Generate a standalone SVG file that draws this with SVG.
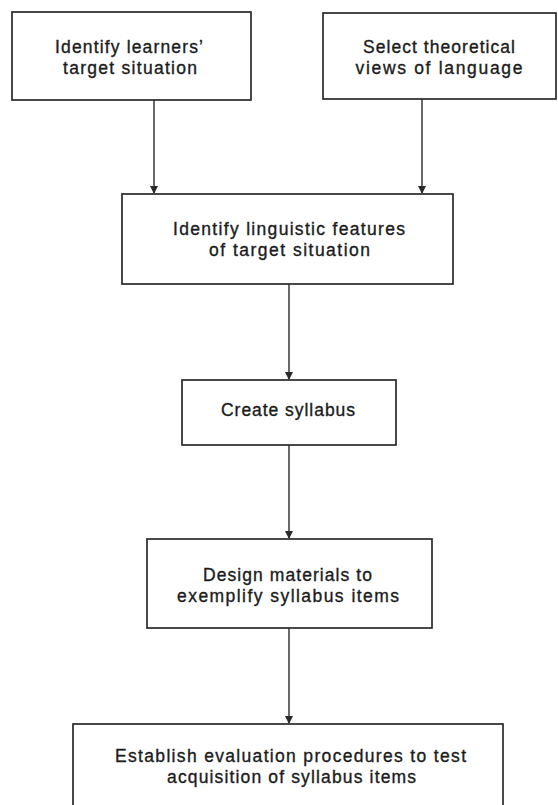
<svg xmlns="http://www.w3.org/2000/svg" width="558" height="805" viewBox="0 0 558 805">
<style>
.box{fill:#fff;stroke:#2a2a2a;stroke-width:1.7}
.t{font-family:"Liberation Sans",Arial,sans-serif;font-size:17.5px;fill:#1c1c1c;text-anchor:middle;stroke:#1c1c1c;stroke-width:0.35}
.c{stroke:#2a2a2a;stroke-width:1.4;fill:none;marker-end:url(#ah)}
</style>
<defs>
<marker id="ah" markerWidth="8" markerHeight="10" refX="7" refY="4" orient="auto" markerUnits="userSpaceOnUse">
<path d="M0,0 L8,4 L0,8 Z" fill="#2a2a2a"/>
</marker>
</defs>
<rect width="558" height="805" fill="#fff"/>
<g id="connectors">
<line class="c" x1="154" y1="100" x2="154" y2="193"/>
<line class="c" x1="422" y1="99" x2="422" y2="193"/>
<line class="c" x1="289" y1="284" x2="289" y2="379"/>
<line class="c" x1="289" y1="445" x2="289" y2="538"/>
<line class="c" x1="289" y1="628" x2="289" y2="723"/>
</g>
<g id="n1"><rect class="box" x="12" y="12" width="239" height="88"/>
<text class="t" x="129" y="53" textLength="148" lengthAdjust="spacing">Identify learners’</text><text class="t" x="130" y="74" textLength="134" lengthAdjust="spacing">target situation</text></g>
<g id="n2"><rect class="box" x="323" y="13" width="233" height="86"/>
<text class="t" x="439" y="53" textLength="152" lengthAdjust="spacing">Select theoretical</text><text class="t" x="439" y="74" textLength="167" lengthAdjust="spacing">views of language</text></g>
<g id="n3"><rect class="box" x="122" y="194" width="331" height="90"/>
<text class="t" x="289" y="235" textLength="232" lengthAdjust="spacing">Identify linguistic features</text><text class="t" x="289.5" y="256" textLength="161" lengthAdjust="spacing">of target situation</text></g>
<g id="n4"><rect class="box" x="182" y="380" width="214" height="65"/>
<text class="t" x="288" y="416" textLength="134" lengthAdjust="spacing">Create syllabus</text></g>
<g id="n5"><rect class="box" x="147" y="539" width="285" height="89"/>
<text class="t" x="287.5" y="581" textLength="169" lengthAdjust="spacing">Design materials to</text><text class="t" x="288" y="602" textLength="222" lengthAdjust="spacing">exemplify syllabus items</text></g>
<g id="n6"><rect class="box" x="73" y="724" width="430" height="100"/>
<text class="t" x="290.5" y="762" textLength="351" lengthAdjust="spacing">Establish evaluation procedures to test</text><text class="t" x="291.5" y="783" textLength="249" lengthAdjust="spacing">acquisition of syllabus items</text></g>
</svg>
